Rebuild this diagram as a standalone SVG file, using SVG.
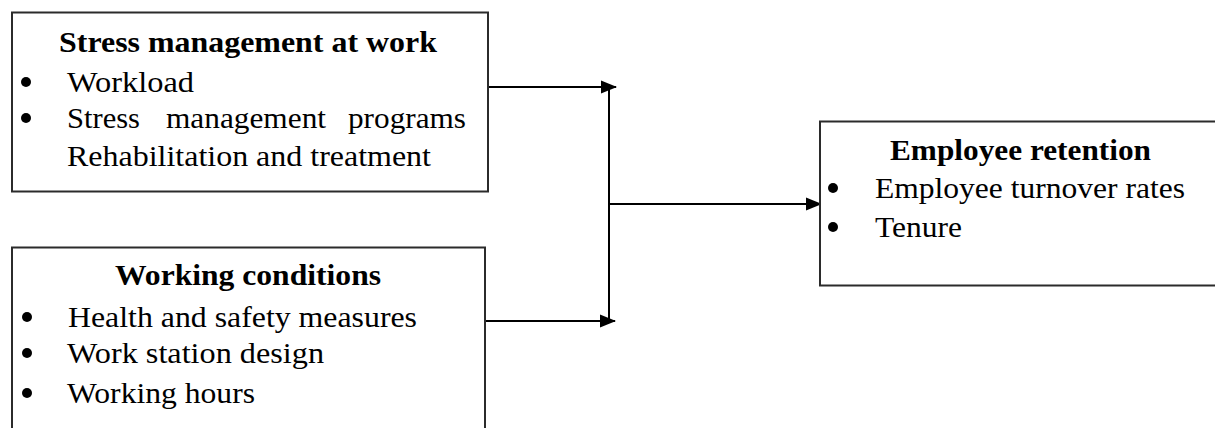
<svg xmlns="http://www.w3.org/2000/svg" width="1215" height="428" viewBox="0 0 1215 428">
<style>
.box{fill:#fff;stroke:#2b2b2b;stroke-width:2}
.t{font-family:"Times New Roman","Liberation Serif",Tinos,serif;font-size:29px;fill:#000}
.b{font-weight:bold}
.d{fill:#000}
.c{stroke:#000;stroke-width:2;fill:none}
</style>
<defs>
<marker id="ah" markerUnits="userSpaceOnUse" markerWidth="16" markerHeight="16" viewBox="0 0 16 16" refX="15" refY="8" orient="auto">
<path d="M0,1.5 L16,8 L0,14.5 Z" fill="#000"/>
</marker>
</defs>
<rect width="1215" height="428" fill="#fff"/>
<g id="connectors">
<line class="c" x1="488" y1="87" x2="616" y2="87" marker-end="url(#ah)"/>
<line class="c" x1="485" y1="321" x2="615" y2="321" marker-end="url(#ah)"/>
<line class="c" x1="609" y1="87" x2="609" y2="322"/>
<line class="c" x1="609" y1="204" x2="821" y2="204" marker-end="url(#ah)"/>
</g>
<g id="stress">
<rect class="box" x="12" y="12.5" width="476" height="179"/>
<text class="t b" x="59" y="52" textLength="378" lengthAdjust="spacingAndGlyphs">Stress management at work</text>
<circle class="d" cx="26" cy="82" r="5"/>
<text class="t" x="67" y="92" textLength="127" lengthAdjust="spacingAndGlyphs">Workload</text>
<circle class="d" cx="26" cy="118" r="5"/>
<text class="t" x="67" y="128" textLength="73" lengthAdjust="spacingAndGlyphs">Stress</text>
<text class="t" x="166" y="128" textLength="160" lengthAdjust="spacingAndGlyphs">management</text>
<text class="t" x="348" y="128" textLength="118" lengthAdjust="spacingAndGlyphs">programs</text>
<text class="t" x="67" y="166" textLength="364" lengthAdjust="spacingAndGlyphs">Rehabilitation and treatment</text>
</g>
<g id="working">
<rect class="box" x="12" y="247.5" width="473" height="200"/>
<text class="t b" x="115" y="285" textLength="266" lengthAdjust="spacingAndGlyphs">Working conditions</text>
<circle class="d" cx="27" cy="317" r="5"/>
<text class="t" x="68" y="327" textLength="349" lengthAdjust="spacingAndGlyphs">Health and safety measures</text>
<circle class="d" cx="27" cy="353" r="5"/>
<text class="t" x="67" y="363" textLength="257" lengthAdjust="spacingAndGlyphs">Work station design</text>
<circle class="d" cx="27" cy="393" r="5"/>
<text class="t" x="67" y="403" textLength="188" lengthAdjust="spacingAndGlyphs">Working hours</text>
</g>
<g id="retention">
<rect class="box" x="820" y="121.5" width="420" height="164"/>
<text class="t b" x="890" y="160" textLength="261" lengthAdjust="spacingAndGlyphs">Employee retention</text>
<circle class="d" cx="833" cy="188" r="5"/>
<text class="t" x="875" y="198" textLength="310" lengthAdjust="spacingAndGlyphs">Employee turnover rates</text>
<circle class="d" cx="833" cy="227" r="5"/>
<text class="t" x="875" y="237" textLength="87" lengthAdjust="spacingAndGlyphs">Tenure</text>
</g>
</svg>
